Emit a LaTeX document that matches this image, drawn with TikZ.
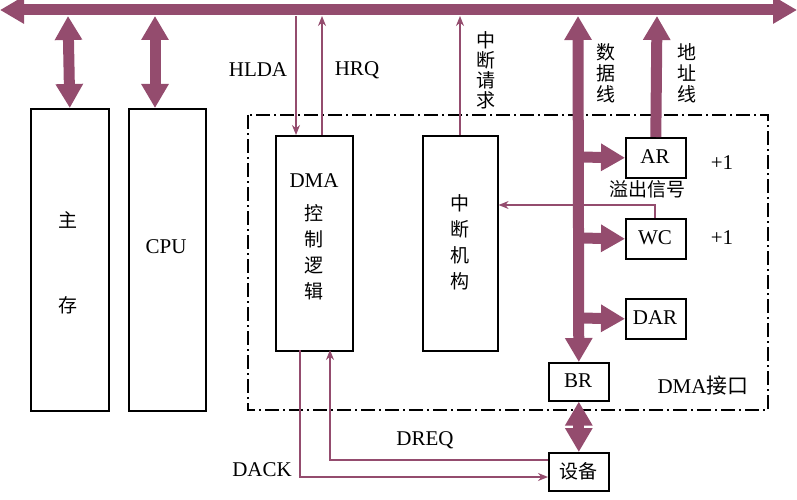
\documentclass[tikz,border=0pt]{standalone}
\usepackage{fontspec}
\setmainfont{Liberation Serif}
\newfontfamily\cjk{Noto Sans CJK SC}
\usetikzlibrary{arrows.meta}
\definecolor{bus}{RGB}{148,76,110}
\begin{document}
\begin{tikzpicture}[x=1pt,y=-1pt,font=\fontsize{21}{24}\selectfont,
 box/.style={draw,line width=1.6pt,inner sep=0pt,anchor=north west},
 fat/.style={draw=bus,line width=11pt,-{Triangle[width=26pt,length=24pt]}},
 fatd/.style={draw=bus,line width=11pt,{Triangle[width=26pt,length=24pt]}-{Triangle[width=26pt,length=24pt]}},
 thin/.style={draw=bus,line width=1.3pt,-{Stealth[length=10pt,width=8pt]}},
 lbl/.style={inner sep=1pt},
 zh/.style={font=\cjk\fontsize{19}{23}\selectfont}]
\useasboundingbox (0,0) rectangle (797,500);
% boxes
\node[box,minimum width=78pt,minimum height=302pt] (mem) at (30,108) {};
\node[zh] at (68,220) {主};
\node[zh] at (68,305) {存};
\node[box,minimum width=77pt,minimum height=302pt] (cpu) at (128,108) {};
\node at (166,247) {CPU};
\draw[line width=1.5pt,dash pattern=on 14pt off 4pt on 2pt off 4pt] (248,115) rectangle (768,410);
\node[box,minimum width=77pt,minimum height=215pt] (dma) at (275,135) {};
\node at (314,181) {DMA};
\node[zh,align=center] at (314,252) {控\\[3pt]制\\[3pt]逻\\[3pt]辑};
\node[box,minimum width=75pt,minimum height=215pt] (int) at (422,135) {};
\node[zh,align=center] at (460,242) {中\\[3pt]断\\[3pt]机\\[3pt]构};
\node[box,minimum width=60pt,minimum height=40pt] (ar) at (625,137) {};
\node at (655,157) {AR};
\node[box,minimum width=60pt,minimum height=40pt] (wc) at (625,218) {};
\node at (655,238) {WC};
\node[box,minimum width=60pt,minimum height=40pt] (dar) at (625,298) {};
\node at (655,318) {DAR};
\node[box,minimum width=60pt,minimum height=38pt] (br) at (548,362) {};
\node at (578,381) {BR};
\node[box,minimum width=60pt,minimum height=38pt] (dev) at (548,452) {};
\node[zh] at (578,471) {设备};
% bus
\coordinate (bl) at (0,10); \coordinate (br2) at (797,10);
\draw[fatd] (bl) -- (br2);
\draw[fatd] (68,16) -- (mem.north);
\draw[fatd] (155,16) -- (155,108);
\draw[fatd] (578,16) -- (br.north);
\draw[fat] (ar.north) -- (657,16);
\draw[fat] (578,157) -- (ar.west);
\draw[fat] (578,238) -- (wc.west);
\draw[fat] (578,318) -- (dar.west);
\draw[fatd] (br.south) -- (dev.north);
% thin
\draw[thin] (296,16) -- (296,135);
\draw[thin] (322,135) -- (322,16);
\draw[thin] (460,135) -- (460,16);
\draw[thin] (655,218) |- (int.east |- 0,205);
\draw[thin] (300,350) |- (dev.west |- 0,477);
\draw[thin] (dev.west |- 0,460) -| (330,350);
% labels
\node at (258,70) {HLDA};
\node at (357,70) {HRQ};
\node[zh,align=center] at (486,70) {中\\[-3pt]断\\[-3pt]请\\[-3pt]求};
\node[zh,align=center] at (606,73) {数\\[-2pt]据\\[-2pt]线};
\node[zh,align=center] at (687,73) {地\\[-2pt]址\\[-2pt]线};
\node at (722,163) {+1};
\node at (722,238) {+1};
\node[zh] at (647,189) {溢出信号};
\node at (425,440) {DREQ};
\node at (262,470) {DACK};
\node at (703,386) {DMA{\cjk 接口}};
\end{tikzpicture}
\end{document}
